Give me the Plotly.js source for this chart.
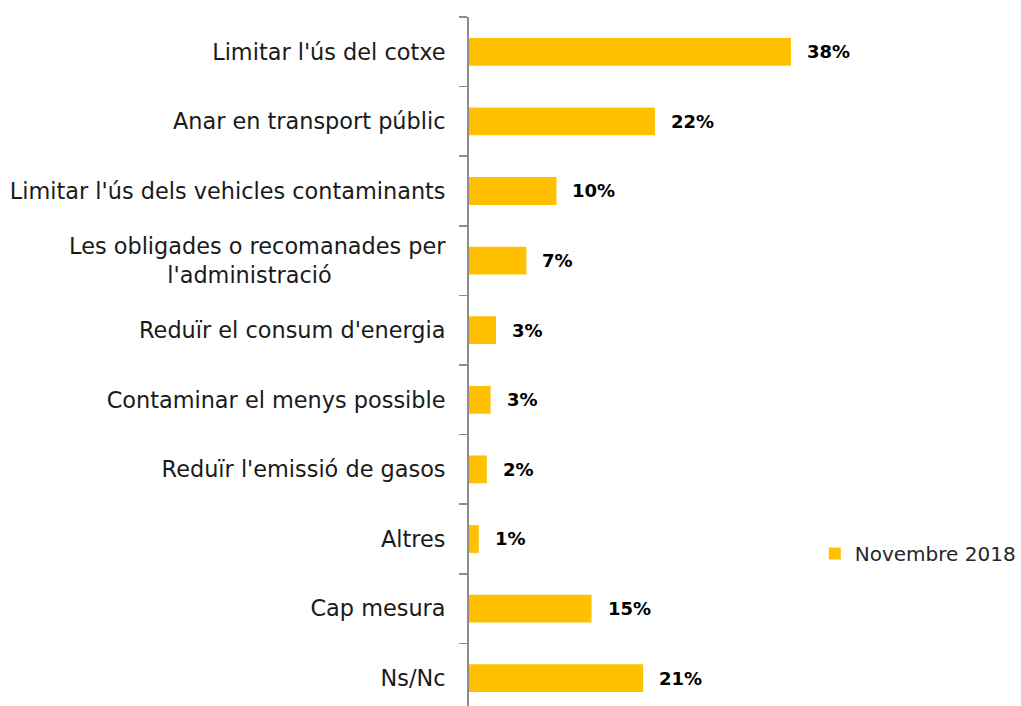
<!DOCTYPE html>
<html>
<head>
<meta charset="utf-8">
<script src="https://cdn.plot.ly/plotly-3.0.1.min.js"></script>
<style>html,body{margin:0;padding:0;background:#fff;}#chart{width:1021px;height:706px;}</style>
</head>
<body>
<div id="chart"></div>
<script>
var NB = "\u00A0";
var categories = [
  "Limitar l'ús del cotxe",
  "Anar en transport públic",
  "Limitar l'ús dels vehicles contaminants",
  "Les obligades o recomanades per<br>l'administració" + NB.repeat(16),
  "Reduïr el consum d'energia",
  "Contaminar el menys possible",
  "Reduïr l'emissió de gasos",
  "Altres",
  "Cap mesura",
  "Ns/Nc"
];
// bar lengths (percent)
var values = [38.1, 22.0, 10.35, 6.8, 3.2, 2.55, 2.1, 1.15, 14.5, 20.6];
// printed data labels
var labels = ["38%", "22%", "10%", "7%", "3%", "3%", "2%", "1%", "15%", "21%"];
var seriesName = "Novembre 2018";

var trace = {
  type: "bar",
  orientation: "h",
  x: values,
  y: categories,
  name: seriesName,
  width: 0.4,
  marker: {color: "#FFC000"},
  hoverinfo: "none",
  showlegend: true
};

var annotations = values.map(function (v, i) {
  return {
    x: v, y: categories[i], xref: "x", yref: "y",
    text: "<b>" + labels[i] + "</b>",
    showarrow: false, xanchor: "left", yanchor: "middle", xshift: 14,
    font: {family: "DejaVu Sans", size: 18, color: "#000000"}
  };
});

var layout = {
  width: 1021, height: 706,
  margin: {l: 469, r: 42, t: 17, b: 0, pad: 0},
  paper_bgcolor: "#ffffff", plot_bgcolor: "#ffffff",
  font: {family: "DejaVu Sans", color: "#1a1a1a"},
  xaxis: {range: [0, 60], visible: false, showgrid: false, zeroline: false, fixedrange: true},
  yaxis: {
    type: "category",
    range: [9.4, -0.5],
    showline: true, linecolor: "#8c8c8c", linewidth: 2,
    ticks: "outside", ticklen: 8, tickwidth: 1.5, tickcolor: "#8c8c8c",
    tickson: "boundaries",
    showgrid: false, zeroline: false,
    ticklabelstandoff: 17,
    tickfont: {family: "DejaVu Sans", size: 22.4, color: "#1a1a1a"},
    fixedrange: true
  },
  showlegend: true,
  legend: {
    x: 0.682, y: 0.2213, xref: "paper", yref: "paper",
    xanchor: "left", yanchor: "middle",
    font: {family: "DejaVu Sans", size: 20, color: "#262626"},
    bgcolor: "rgba(0,0,0,0)", borderwidth: 0
  },
  annotations: annotations,
  bargap: 0.6
};

Plotly.newPlot("chart", [trace], layout, {displayModeBar: false, staticPlot: true});
</script>
</body>
</html>
